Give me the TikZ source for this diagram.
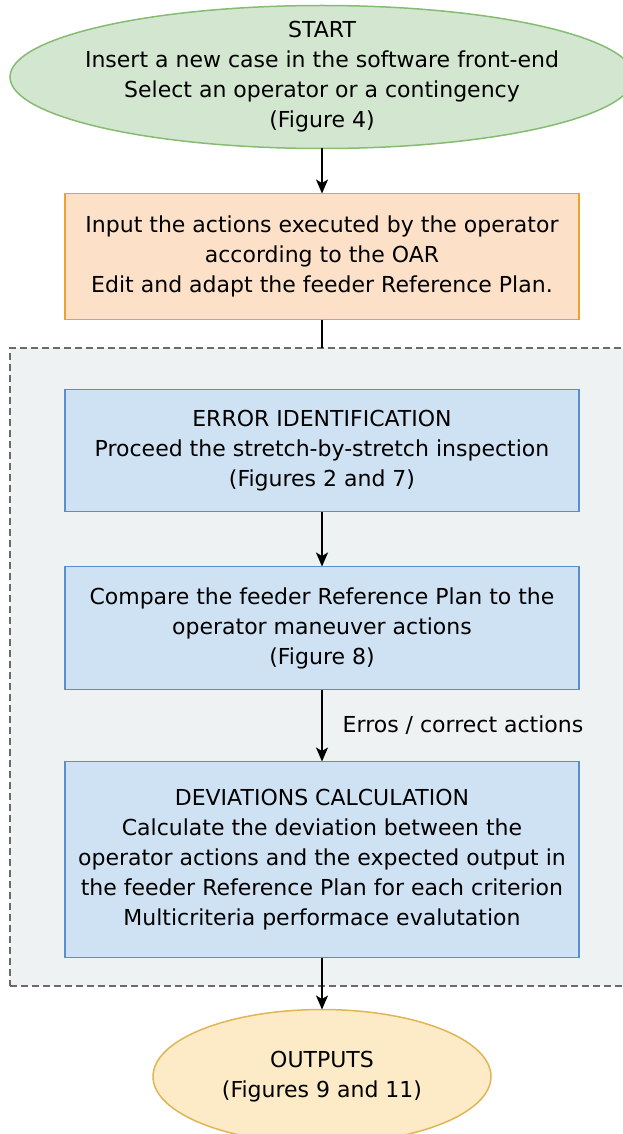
\documentclass[tikz,border=0pt]{standalone}
\usepackage{fontspec}
\setmainfont{DejaVu Sans}
\usepackage{xcolor}
\usetikzlibrary{arrows.meta, shapes.geometric, positioning}
\definecolor{flowgreen}{HTML}{D3E7D0}
\definecolor{flowgreenline}{HTML}{86BC72}
\definecolor{floworange}{HTML}{FCE0C8}
\definecolor{floworangeline}{HTML}{F0A030}
\definecolor{flowblue}{HTML}{CFE2F3}
\definecolor{flowblueline}{HTML}{5A8FCE}
\definecolor{flowyellow}{HTML}{FCEBC6}
\definecolor{flowyellowline}{HTML}{E0B655}
\definecolor{panelgrey}{HTML}{EFF2F3}
\definecolor{panelline}{HTML}{6A6A6A}
\tikzset{
  %terminal (ellipse) style
  terminal/.style={
    ellipse
    , draw
    , line width=1.5pt
    , align=center
    , inner sep=0pt
    , outer sep=0pt
  },
  %process box style
  process/.style={
    draw
    , line width=1.5pt
    , align=center
    , outer sep=0pt
    , minimum width=514pt
    , fill=flowblue
    , draw=flowblueline
  },
  %dashed container
  panel/.style={
    draw=panelline
    , fill=panelgrey
    , line width=1.2pt
    , outer sep=0pt
    , dash pattern=on 7pt off 4pt
  },
  flow/.style={
    line width=1.4pt
    , -{Stealth[length=14pt, width=12pt, inset=3.5pt]}
  },
}

\begin{document}
\begin{tikzpicture}[font=\fontsize{22}{30}\selectfont]
  \useasboundingbox (0pt,0pt) rectangle (623pt,-1134pt);

  % container behind the blue steps
  \node (panel) [panel, minimum width=630pt, minimum height=638pt]
    at (325pt,-667pt) {};

  \node (start) [terminal, fill=flowgreen, draw=flowgreenline
                 , minimum width=624pt, minimum height=143pt
                 , inner xsep=-20pt, inner ysep=-12pt]
    at (322pt,-77pt)
    {START\\ Insert a new case in the software front-end\\
     Select an operator or a contingency\\ (Figure 4)};

  \node (input) [process, fill=floworange, draw=floworangeline
                 , minimum height=126pt, below=45pt of start]
    {Input the actions executed by the operator\\ according to the OAR\\
     Edit and adapt the feeder Reference Plan.};

  \node (errid) [process, minimum height=122pt, below=70pt of input]
    {ERROR IDENTIFICATION\\ Proceed the stretch-by-stretch inspection\\
     (Figures 2 and 7)};

  \node (compare) [process, minimum height=123pt, below=55pt of errid]
    {Compare the feeder Reference Plan to the\\ operator maneuver actions\\
     (Figure 8)};

  \node (deviation) [process, minimum height=196pt, below=72pt of compare]
    {DEVIATIONS CALCULATION\\ Calculate the deviation between the\\
     operator actions and the expected output in\\
     the feeder Reference Plan for each criterion\\
     Multicriteria performace evalutation};

  \node (outputs) [terminal, fill=flowyellow, draw=flowyellowline
                   , minimum width=338pt, minimum height=134pt
                   , below=52pt of deviation]
    {OUTPUTS\\ (Figures 9 and 11)};

  % connectors
  \draw[flow] (start) -- (input);
  \draw[line width=1.4pt] (input) -- (input.south |- panel.north);
  \draw[flow] (errid) -- (compare);
  \draw[flow] (compare) -- node[right=20pt, inner sep=0pt]
    {Erros / correct actions} (deviation);
  \draw[flow] (deviation) -- (outputs);
\end{tikzpicture}
\end{document}
